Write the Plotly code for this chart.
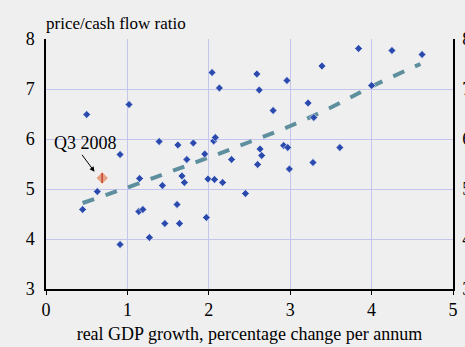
import plotly.graph_objects as go

gdp_growth = [0.45, 0.50, 0.63, 0.91, 0.91, 1.02, 1.14, 1.15, 1.19, 1.27,
              1.39, 1.43, 1.46, 1.61, 1.62, 1.64, 1.67, 1.70, 1.73, 1.81,
              1.95, 1.97, 1.99, 2.04, 2.06, 2.07, 2.08, 2.13, 2.17, 2.28,
              2.45, 2.59, 2.60, 2.62, 2.63, 2.65, 2.79, 2.92, 2.96, 2.97,
              2.99, 3.22, 3.28, 3.29, 3.39, 3.61, 3.84, 4.00, 4.25, 4.62]
pcf_ratio = [4.59, 6.49, 4.95, 5.69, 3.89, 6.69, 4.55, 5.21, 4.59, 4.03,
             5.95, 5.07, 4.31, 4.69, 5.88, 4.31, 5.26, 5.13, 5.59, 5.92,
             5.70, 4.43, 5.20, 7.33, 5.96, 5.19, 6.03, 7.02, 5.13, 5.59,
             4.91, 7.30, 5.49, 6.98, 5.80, 5.67, 6.57, 5.87, 7.17, 5.83,
             5.40, 6.72, 5.53, 6.43, 7.46, 5.83, 7.81, 7.07, 7.77, 7.69]

q3_2008_x = [0.69]
q3_2008_y = [5.22]

trend_x = [0.45, 1.0, 1.5, 2.0, 2.5, 3.0, 3.5, 4.0, 4.6]
trend_y = [4.72, 5.03, 5.33, 5.63, 5.94, 6.26, 6.63, 7.05, 7.50]

tick_vals = [3, 4, 5, 6, 7, 8]
x_ticks = [0, 1, 2, 3, 4, 5]

FONT = "Liberation Serif"
BG = "#efefef"
GRID = "#c3c5ec"

fig = go.Figure()

fig.add_trace(go.Scatter(
    x=trend_x, y=trend_y, mode="lines",
    line=dict(color="#5e8f9e", width=4, dash="dash", shape="spline"),
    hoverinfo="skip", showlegend=False))

fig.add_trace(go.Scatter(
    x=gdp_growth, y=pcf_ratio, mode="markers",
    marker=dict(symbol="diamond", size=6, color="#2a4aad",
                line=dict(color="white", width=0.6)),
    showlegend=False))

fig.add_trace(go.Scatter(
    x=q3_2008_x, y=q3_2008_y, mode="markers",
    marker=dict(symbol="diamond", size=10, color="#e3a48a",
                line=dict(color="white", width=1)),
    showlegend=False))
fig.add_trace(go.Scatter(
    x=q3_2008_x, y=q3_2008_y, mode="markers",
    marker=dict(symbol="line-ns", size=7,
                line=dict(color="#c8442e", width=1.5)),
    showlegend=False))

# invisible trace for the right-hand axis
fig.add_trace(go.Scatter(x=[None], y=[None], yaxis="y2", showlegend=False))

fig.add_annotation(x=0.596, y=5.346, ax=-13.6, ay=-18.4, axref="pixel", ayref="pixel",
                   text="", showarrow=True, arrowhead=2, arrowsize=1,
                   arrowwidth=1, arrowcolor="black")
fig.add_annotation(x=0.48, y=5.92, text="Q3 2008", showarrow=False,
                   font=dict(family=FONT, size=18, color="black"))

fig.update_layout(
    width=465, height=347,
    margin=dict(l=46, r=11.5, t=39, b=58, autoexpand=False),
    paper_bgcolor=BG, plot_bgcolor=BG,
    font=dict(family=FONT, size=18, color="black"),
    xaxis=dict(range=[0, 5], tickvals=x_ticks, showgrid=True, gridcolor=GRID,
               gridwidth=1.2, zeroline=False, showline=True, linecolor="black",
               linewidth=1.5, ticks="outside", ticklen=4, tickcolor="black",
               tickfont=dict(size=18), automargin=False,
               title=dict(text="real GDP growth, percentage change per annum",
                          font=dict(size=18), standoff=8)),
    yaxis=dict(range=[3, 8], tickvals=tick_vals, showgrid=True, gridcolor=GRID,
               gridwidth=1.2, zeroline=False, showline=True, linecolor="black",
               linewidth=1.5, ticks="", tickfont=dict(size=18),
               ticklabelstandoff=6, automargin=False),
    yaxis2=dict(range=[3, 8], tickvals=tick_vals, overlaying="y", side="right",
                showgrid=False, zeroline=False, showline=True, linecolor="black",
                linewidth=1.5, ticks="", tickfont=dict(size=18),
                ticklabelstandoff=4, automargin=False),
)

fig.add_annotation(xref="paper", yref="paper", x=0, y=1, xanchor="left",
                   yanchor="bottom", yshift=4, xshift=-2,
                   text="price/cash flow ratio", showarrow=False,
                   font=dict(family=FONT, size=17, color="black"))

fig.write_html("out.html",
               config={"displayModeBar": False},
               post_script="document.body.style.margin='0px';"
                           "document.body.style.background='#efefef';")
